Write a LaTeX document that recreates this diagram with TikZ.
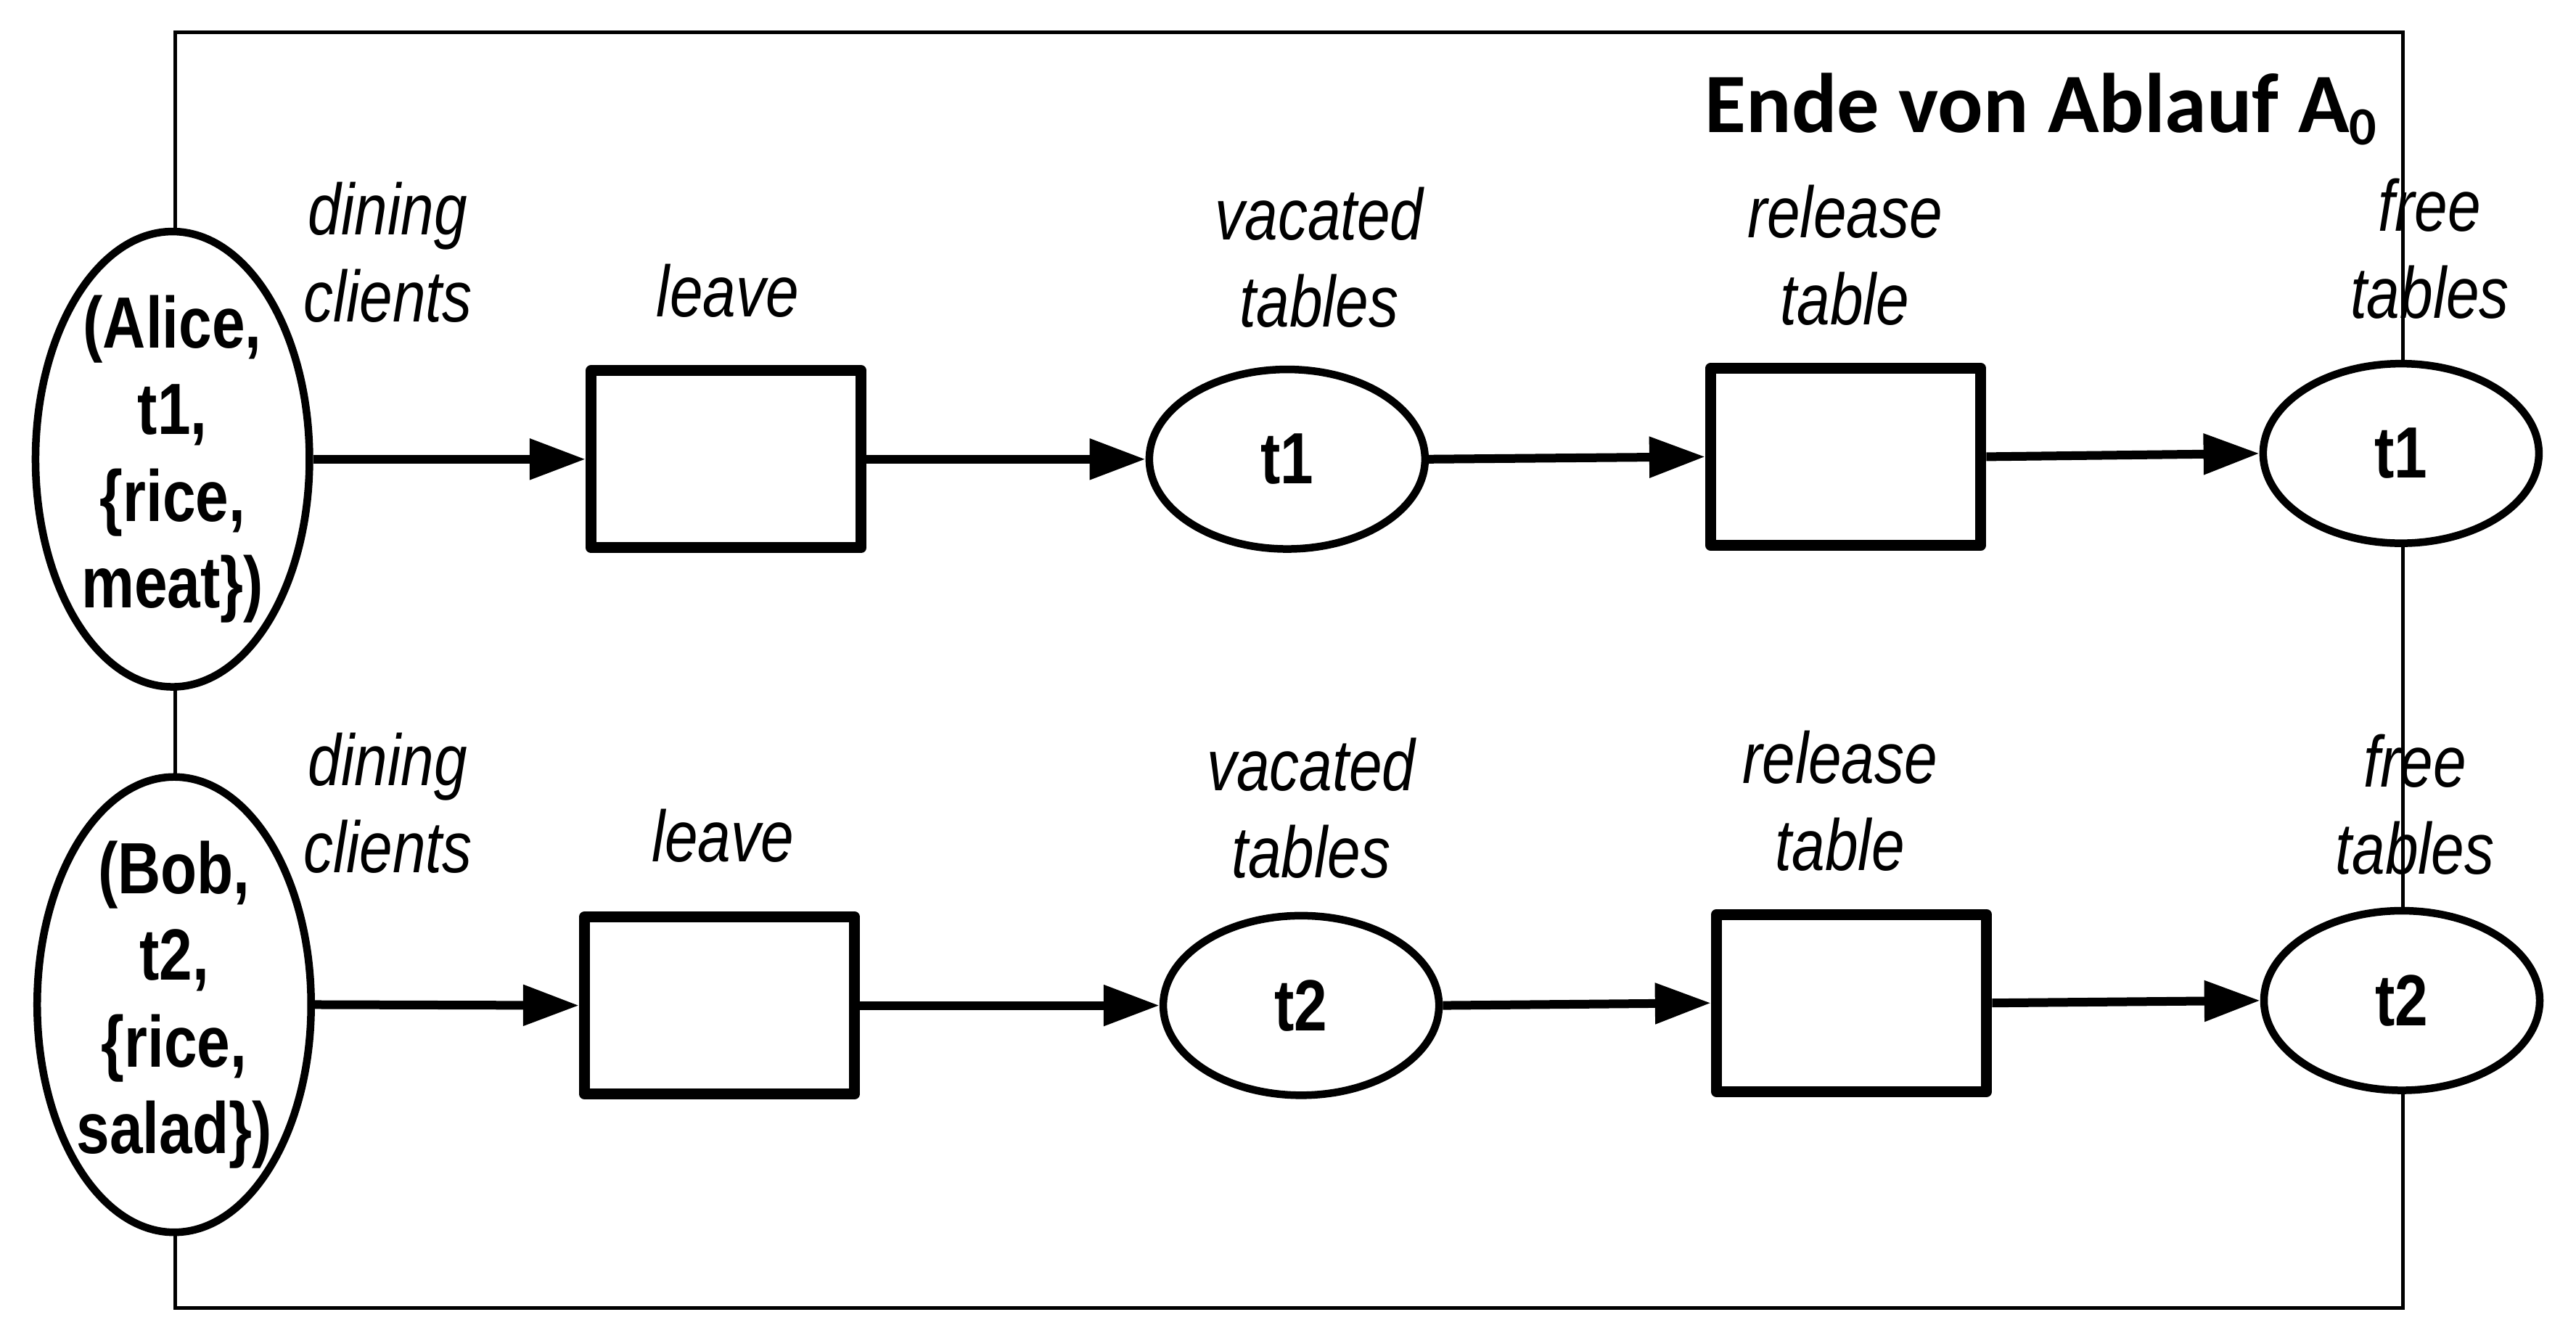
\documentclass[tikz,border=0pt]{standalone}
\usepackage{fontspec}
\setmainfont{Liberation Sans}
\newfontfamily\labfont[FakeStretch=0.82]{Liberation Sans}
\newfontfamily\titlefont{Carlito}
\usetikzlibrary{shapes.geometric,arrows.meta}
\begin{document}
\begin{tikzpicture}[x=0.4528pt,y=-0.4528pt,
  place/.style={ellipse, draw, line width=2.1pt, fill=white, inner sep=0pt, minimum width=76pt, minimum height=49.5pt},
  bigplace/.style={ellipse, draw, line width=2.1pt, fill=white, inner sep=0pt, minimum width=75.5pt, minimum height=125.5pt},
  trans/.style={rectangle, draw, line width=3pt, line join=round, fill=white, inner sep=0pt, minimum width=74.5pt, minimum height=48.8pt},
  tok/.style={font=\labfont\bfseries\fontsize{20}{23.9}\selectfont, align=center, inner sep=0pt},
  lab/.style={font=\labfont\itshape\fontsize{20}{24}\selectfont, align=center, inner sep=0pt, anchor=base},
  arc/.style={line width=2.4pt, -{Triangle[length=15.4pt,width=10.8pt]}},
  framebox/.style={line width=1pt}]
\useasboundingbox (0,0) rectangle (1568,816);
% frame
\draw[framebox] (106.5,19.5) rectangle (1462.5,796);
\node[font=\titlefont\bfseries\fontsize{23.3}{23.3}\selectfont, anchor=base east, inner sep=0pt] (title) at (1447,80.4) {Ende von Ablauf A\raisebox{-3.4pt}{\fontsize{14.8}{14.8}\selectfont 0}};
% row 1
\node[bigplace] (alice) at (105,279.5) {};
\node[tok] (alicetxt) at (alice) {(Alice,\\t1,\\\{rice,\\meat\})};
\node[trans] (leave1) at (442,279.5) {};
\node[place] (vac1) at (783.5,279.5) {};
\node[tok] (vac1txt) at (vac1) {t1};
\node[trans] (rel1) at (1123.5,278) {};
\node[place] (free1) at (1461.5,276) {};
\node[tok] (free1txt) at (free1) {t1};
% row 2
\node[bigplace] (bob) at (106,611.5) {};
\node[tok] (bobtxt) at (bob) {(Bob,\\t2,\\\{rice,\\salad\})};
\node[trans] (leave2) at (438,612) {};
\node[place] (vac2) at (792,612) {};
\node[tok] (vac2txt) at (vac2) {t2};
\node[trans] (rel2) at (1127,610.5) {};
\node[place] (free2) at (1462,609) {};
\node[tok] (free2txt) at (free2) {t2};
% labels row 1 (anchor = baseline of last line)
\node[lab] (l1) at (236,196) {dining\\clients};
\node[lab] (l2) at (443,193) {leave};
\node[lab] (l3) at (803,199) {vacated\\tables};
\node[lab] (l4) at (1123,197.5) {release\\table};
\node[lab] (l5) at (1479,193.5) {free\\tables};
% labels row 2
\node[lab] (m1) at (236,531) {dining\\clients};
\node[lab] (m2) at (440,524.5) {leave};
\node[lab] (m3) at (798,534) {vacated\\tables};
\node[lab] (m4) at (1120,530) {release\\table};
\node[lab] (m5) at (1470,532) {free\\tables};
% arcs
\draw[arc] (alice.east) -- (leave1.west);
\draw[arc] (leave1.east) -- (vac1.west);
\draw[arc] (vac1.east) -- (rel1.west);
\draw[arc] (rel1.east) -- (free1.west);
\draw[arc] (bob.east) -- (leave2.west);
\draw[arc] (leave2.east) -- (vac2.west);
\draw[arc] (vac2.east) -- (rel2.west);
\draw[arc] (rel2.east) -- (free2.west);
\end{tikzpicture}
\end{document}
